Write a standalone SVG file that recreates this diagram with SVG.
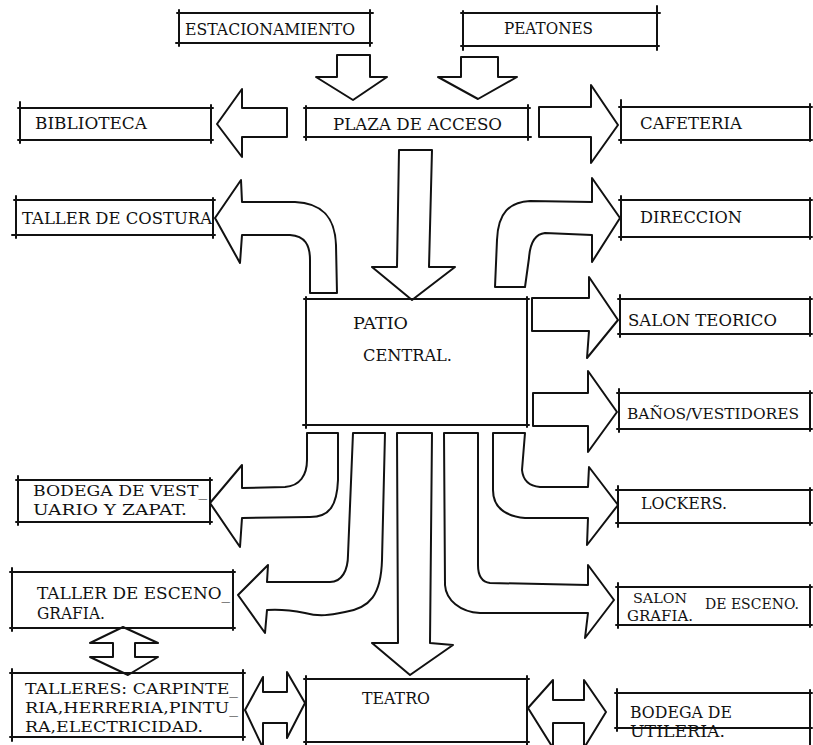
<svg xmlns="http://www.w3.org/2000/svg" width="813" height="745" viewBox="0 0 813 745">
<style>
.ln{fill:none;stroke:#111;stroke-width:2;stroke-linecap:round;stroke-linejoin:round}
.ar{fill:#fff;stroke:#111;stroke-width:2;stroke-linecap:round;stroke-linejoin:round}
text{font-family:"DejaVu Serif","Liberation Serif",serif;font-size:17px;fill:#111}
.sm{font-size:15.5px}
</style>
<rect width="813" height="745" fill="#fff"/>
<g id="connectors">
<path class="ar" d="M337,77 L337,55 L370,55 L370,77 L387,77 L353,100 L316,77 Z"/>
<path class="ar" d="M461,77 L461,57 L498,57 L498,77 L517,77 L478,99 L438,77 Z"/>
<path class="ar" d="M287,108 L242,108 L242,89 L217,124 L242,157 L242,137 L287,137 Z"/>
<path class="ar" d="M539,107 L591,107 L591,85 L618,125 L591,163 L591,137 L539,137 Z"/>
<path class="ar" d="M399,150 L432,150 L429,267 L455,267 L412,300 L372,267 L397,267 Z"/>
<path class="ar" d="M337,293 L336,245 C335,215 320,203 295,202 L242,202 L241,180 L215,218 L240,263 L242,235 L290,235 C305,236 310,245 310,260 L310,293 Z"/>
<path class="ar" d="M495,287 L497,240 C498,212 510,202 530,201 L592,202 L592,178 L620,218 L592,262 L592,235 L545,233 C535,234 530,244 529,258 L525,287 Z"/>
<path class="ar" d="M532,298 L589,298 L589,277 L618,320 L587,358 L589,331 L532,331 Z"/>
<path class="ar" d="M533,393 L588,393 L588,371 L617,412 L588,452 L588,426 L533,426 Z"/>
<path class="ar" d="M525,433 L522,470 C523,480 528,486 540,487 L588,487 L589,467 L618,505 L587,545 L588,518 L525,518 C505,516 493,508 493,490 L493,433 Z"/>
<path class="ar" d="M338,433 L338,480 C337,505 330,517 310,517 L242,518 L240,547 L210,503 L242,465 L242,488 L285,487 C300,486 307,475 307,460 L307,433 Z"/>
<path class="ar" d="M385,433 L382,560 C381,595 370,608 345,612 C330,615 320,617 305,613 C290,610 280,609 267,610 L265,633 L238,595 L268,565 L267,582 L330,582 C342,582 348,570 348,555 L353,433 Z"/>
<path class="ar" d="M397,433 L432,433 L430,643 L453,645 L410,675 L372,643 L398,643 Z"/>
<path class="ar" d="M444,433 L445,585 C446,600 460,612 480,613 L588,613 L585,638 L614,600 L588,565 L588,585 L490,583 C482,582 478,575 478,565 L478,433 Z"/>
<path class="ar" d="M123,627 L158,643 L135,643 L135,657 L158,657 L128,675 L90,657 L113,657 L113,643 L90,643 Z"/>
<path class="ar" d="M245,710 L263,677 L263,692 L287,692 L287,672 L305,703 L287,738 L287,723 L263,723 L263,748 Z"/>
<path class="ar" d="M528,708 L553,680 L553,700 L584,700 L584,680 L606,712 L584,748 L584,723 L553,723 L553,748 Z"/>
</g>
<g id="estacionamiento"><path class="ln" d="M177,13 H373 M370,10 V46 M372,43 H176 M179,46 V10"/><text x="185" y="35" textLength="170" lengthAdjust="spacingAndGlyphs">ESTACIONAMIENTO</text></g>
<g id="peatones"><path class="ln" d="M461,13 H660 M657,6 V50 M659,46 H461 M463,50 V11"/><text x="504" y="34" textLength="89" lengthAdjust="spacingAndGlyphs">PEATONES</text></g>
<g id="plaza"><path class="ln" d="M304,108 H530 M528,105 V140 M531,137 H304 M306,140 V106"/><text x="333" y="130" textLength="169" lengthAdjust="spacingAndGlyphs">PLAZA DE ACCESO</text></g>
<g id="biblioteca"><path class="ln" d="M18,108 H213 M211,105 V143 M213,140 H18 M20,143 V102"/><text x="35" y="129" textLength="112" lengthAdjust="spacingAndGlyphs">BIBLIOTECA</text></g>
<g id="cafeteria"><path class="ln" d="M619,107 H812 M810,104 V141 M812,140 H619 M621,143 V100"/><text x="640" y="129" textLength="102" lengthAdjust="spacingAndGlyphs">CAFETERIA</text></g>
<g id="taller_costura"><path class="ln" d="M14,200 H215 M213,198 V238 M215,235 H12 M16,238 V196"/><text x="22" y="224" textLength="190" lengthAdjust="spacingAndGlyphs">TALLER DE COSTURA</text></g>
<g id="direccion"><path class="ln" d="M619,200 H812 M810,198 V239 M812,237 H619 M621,240 V196"/><text x="640" y="223" textLength="102" lengthAdjust="spacingAndGlyphs">DIRECCION</text></g>
<g id="patio"><path class="ln" d="M304,299 H529 M527,297 V427 M529,425 H303 M306,428 V297"/><text x="353" y="329" textLength="55" lengthAdjust="spacingAndGlyphs">PATIO</text><text x="363" y="361" textLength="89" lengthAdjust="spacingAndGlyphs">CENTRAL.</text></g>
<g id="salon_teorico"><path class="ln" d="M618,299 H812 M810,297 V336 M812,334 H618 M620,337 V295"/><text x="628" y="326" textLength="149" lengthAdjust="spacingAndGlyphs">SALON TEORICO</text></g>
<g id="banos"><path class="ln" d="M617,393 H812 M810,391 V431 M812,429 H617 M619,432 V389"/><text class="sm" x="627" y="419" textLength="172" lengthAdjust="spacingAndGlyphs">BAÑOS/VESTIDORES</text></g>
<g id="lockers"><path class="ln" d="M616,490 H812 M810,488 V525 M812,523 H616 M618,527 V486"/><text x="641" y="509" textLength="86" lengthAdjust="spacingAndGlyphs">LOCKERS.</text></g>
<g id="bodega_vest"><path class="ln" d="M16,480 H212 M210,478 V524 M212,522 H16 M18,525 V476"/><text class="sm" x="33" y="496" textLength="174" lengthAdjust="spacingAndGlyphs">BODEGA DE VEST_</text><text class="sm" x="33" y="515" textLength="154" lengthAdjust="spacingAndGlyphs">UARIO Y ZAPAT.</text></g>
<g id="taller_esceno"><path class="ln" d="M10,572 H235 M233,570 V630 M235,628 H10 M12,631 V568"/><text x="37" y="599" textLength="193" lengthAdjust="spacingAndGlyphs">TALLER DE ESCENO_</text><text x="37" y="619" textLength="68" lengthAdjust="spacingAndGlyphs">GRAFIA.</text></g>
<g id="salon_esceno"><path class="ln" d="M616,587 H812 M810,585 V627 M812,625 H616 M618,628 V583"/><text x="633" y="603" style="font-size:12.5px" textLength="54" lengthAdjust="spacingAndGlyphs">SALON</text><text class="sm" x="705" y="609" textLength="94" lengthAdjust="spacingAndGlyphs">DE ESCENO.</text><text x="627" y="621" style="font-size:14px" textLength="66" lengthAdjust="spacingAndGlyphs">GRAFIA.</text></g>
<g id="talleres"><path class="ln" d="M10,673 H245 M243,670 V740 M245,737 H10 M12,741 V669"/><text class="sm" x="25" y="694" textLength="213" lengthAdjust="spacingAndGlyphs">TALLERES: CARPINTE_</text><text class="sm" x="25" y="713" textLength="213" lengthAdjust="spacingAndGlyphs">RIA,HERRERIA,PINTU_</text><text class="sm" x="25" y="732" textLength="178" lengthAdjust="spacingAndGlyphs">RA,ELECTRICIDAD.</text></g>
<g id="teatro"><path class="ln" d="M304,679 H529 M527,676 V745 M529,742 H304 M306,745 V676"/><text x="362" y="704" textLength="68" lengthAdjust="spacingAndGlyphs">TEATRO</text></g>
<g id="bodega_utileria"><path class="ln" d="M615,693 H812 M810,690 V745 M812,728 H615 M617,731 V689"/><text x="630" y="718" textLength="102" lengthAdjust="spacingAndGlyphs">BODEGA DE</text><text x="630" y="737" textLength="95" lengthAdjust="spacingAndGlyphs">UTILERIA.</text></g>
</svg>
